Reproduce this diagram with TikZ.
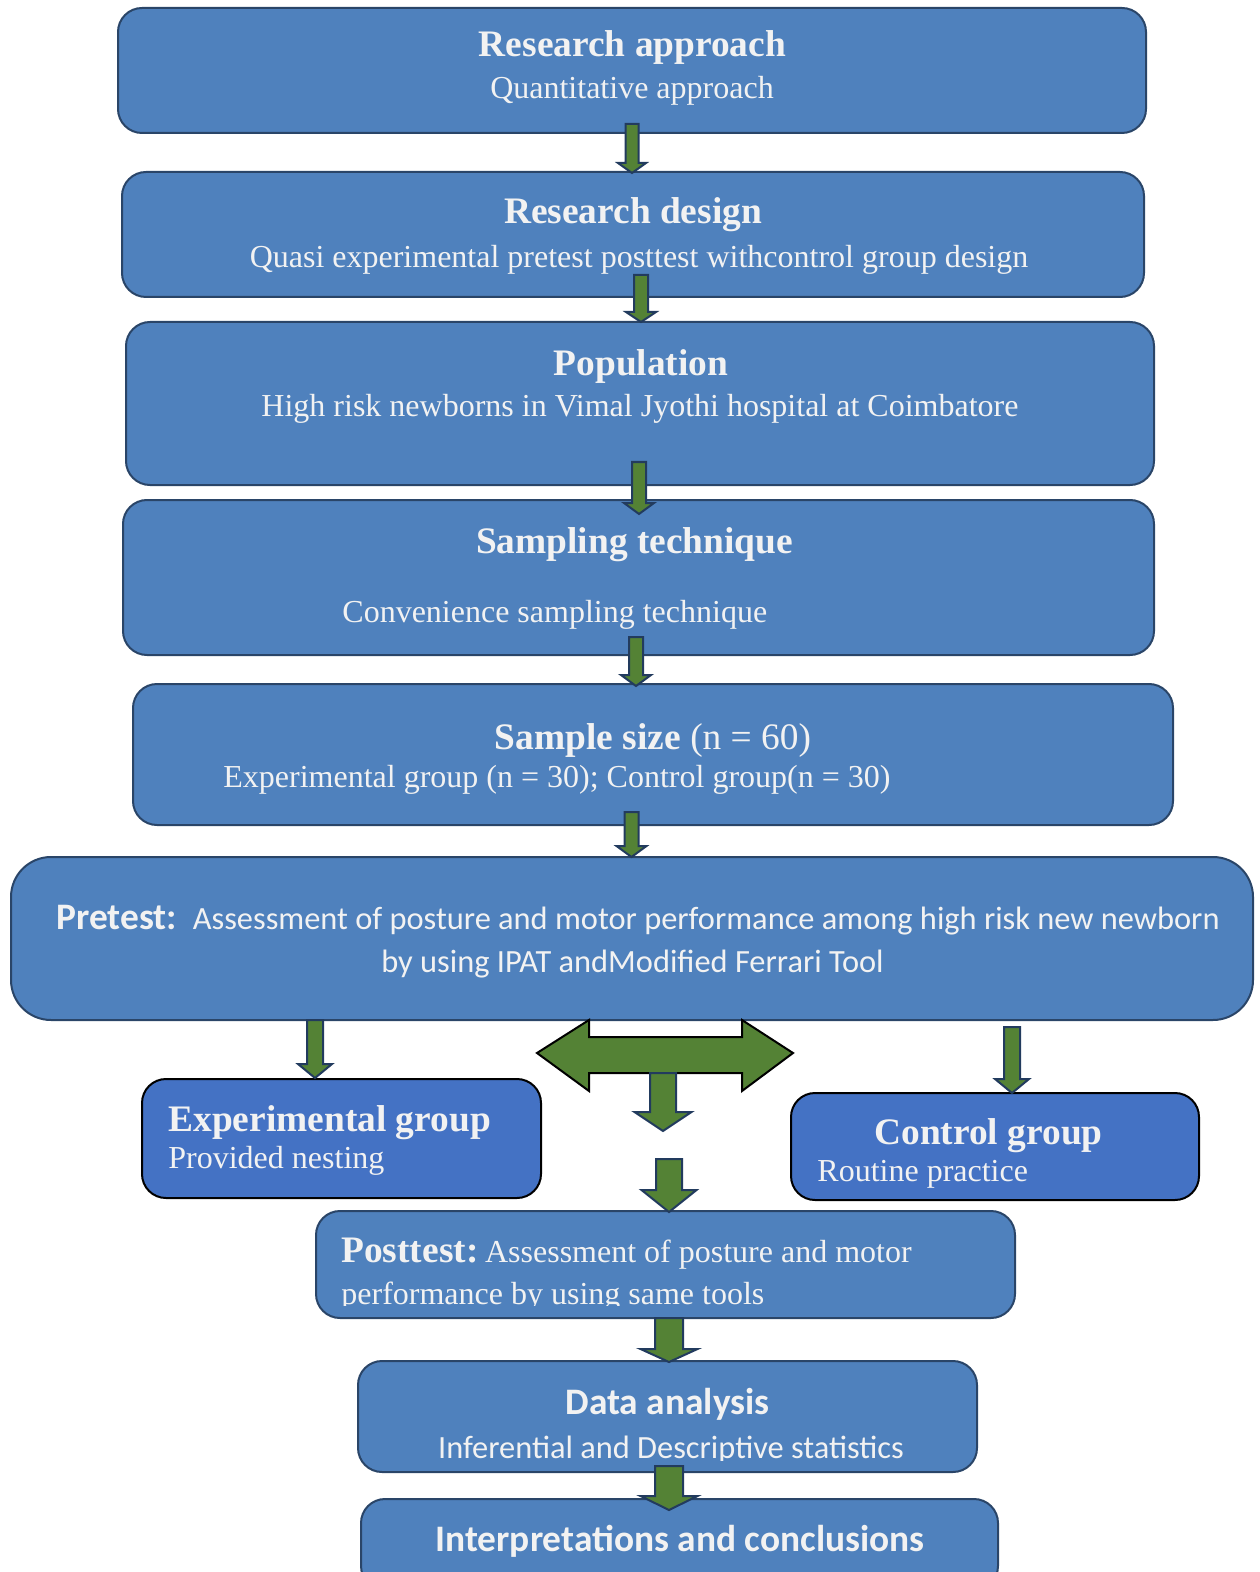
\documentclass[tikz,border=0pt]{standalone}
\usepackage{fontspec}
\setmainfont{Liberation Serif}
\newfontfamily\calfont{Carlito}
\definecolor{boxblue}{HTML}{4F81BD}
\definecolor{grpblue}{HTML}{4472C4}
\definecolor{boxline}{HTML}{2A4568}
\definecolor{txt}{HTML}{F2F2F2}
\definecolor{arrgreen}{HTML}{548235}
\definecolor{arrline}{HTML}{223B5E}
\newcommand\titlesize{\fontsize{18.7}{22}\selectfont}
\newcommand\bodysize{\fontsize{16}{19}\selectfont}
\newcommand\calbody{\fontsize{16.2}{19}\selectfont}
\newcommand\blockdown[6]{%
  \draw[arr] ({#1-#4},#2) -- ({#1+#4},#2) -- ({#1+#4},{#3-#6}) -- ({#1+#5},{#3-#6})
    -- (#1,#3) -- ({#1-#5},{#3-#6}) -- ({#1-#4},{#3-#6}) -- cycle;}
\begin{document}
\begin{tikzpicture}[x=0.5pt,y=-0.5pt,
  box/.style={draw=boxline,line width=1pt,fill=boxblue,rounded corners=12pt,inner sep=0pt},
  grp/.style={draw=black,line width=1pt,fill=grpblue,rounded corners=12pt,inner sep=0pt},
  arr/.style={draw=arrline,line width=1pt,fill=arrgreen,line join=miter},
  dbl/.style={draw=black,line width=1pt,fill=arrgreen,line join=miter},
  ttl/.style={text=txt,inner sep=0pt,font=\titlesize\bfseries},
  bdy/.style={text=txt,inner sep=0pt,font=\bodysize}]
\useasboundingbox (0,0) rectangle (1259,1572);
\begin{scope}
\clip (0,0) rectangle (1259,1572);
% boxes
\node[box,minimum width=514pt,minimum height=62.5pt] (b1) at (632,70.5) {};
\node[box,minimum width=511pt,minimum height=62.5pt] (b2) at (633,234.5) {};
\node[box,minimum width=514pt,minimum height=81.5pt] (b3) at (640,403.5) {};
\node[box,minimum width=515.5pt,minimum height=77.5pt] (b4) at (638.5,577.5) {};
\node[box,minimum width=520pt,minimum height=70.5pt] (b5) at (653,754.5) {};
\node[box,rounded corners=20pt,minimum width=621pt,minimum height=81.5pt] (b6) at (632,938.5) {};
\node[grp,minimum width=199.5pt,minimum height=59.5pt] (b7) at (341.5,1138.5) {};
\node[grp,minimum width=204pt,minimum height=53.5pt] (b8) at (995,1146.5) {};
\node[box,minimum width=349.5pt,minimum height=53.5pt] (b9) at (665.5,1264.5) {};
\node[box,minimum width=309.5pt,minimum height=55.5pt] (b10) at (667.5,1416.5) {};
\node[box,minimum width=318.5pt,minimum height=45.5pt] (b11) at (679.5,1544.5) {};
% texts
\node[ttl,anchor=base] (t1) at (632.5,57) {Research approach};
\node[bdy,anchor=base] (s1) at (632,99) {Quantitative approach};
\node[ttl,anchor=base] (t2) at (633,224) {Research design};
\node[bdy,anchor=base] (s2) at (639,268) {Quasi experimental pretest posttest withcontrol group design};
\node[ttl,anchor=base] (t3) at (641,376) {Population};
\node[bdy,anchor=base] (s3) at (640,417) {High risk newborns in Vimal Jyothi hospital at Coimbatore};
\node[ttl,anchor=base] (t4) at (634.5,553) {Sampling technique};
\node[bdy,anchor=base west] (s4) at (342,622) {Convenience sampling technique};
\node[ttl,anchor=base] (t5) at (653,749) {Sample size \textmd{(n = 60)}};
\node[bdy,anchor=base west] (s5) at (223,787) {Experimental group (n = 30); Control group(n = 30)};
\node[text=txt,inner sep=0pt,anchor=base west,font=\calfont] (t6) at (56,929)
  {{\titlesize\bfseries Pretest:}\hspace{8pt}{\calbody Assessment of posture and motor performance among high risk new newborn}};
\node[text=txt,inner sep=0pt,anchor=base,font=\calfont\calbody] (s6) at (632.5,972)
  {by using IPAT andModified Ferrari Tool};
\node[ttl,anchor=base west] (t7) at (168,1131) {Experimental group};
\node[bdy,anchor=base west] (s7) at (168,1168) {Provided nesting};
\node[ttl,anchor=base west] (t8) at (874,1144) {Control group};
\node[bdy,anchor=base west] (s8) at (817,1181) {Routine practice};
\node[text=txt,inner sep=0pt,anchor=base west] (t9) at (341,1262)
  {{\titlesize\bfseries Posttest:} {\bodysize Assessment of posture and motor}};
\begin{scope}
\clip (316,1211) rectangle (1015,1305);
\node[bdy,anchor=base west] (s9) at (341,1304) {performance by using same tools};
\end{scope}
\node[ttl,anchor=base,font=\calfont\titlesize\bfseries] (t10) at (667.5,1414) {Data analysis};
\begin{scope}
\clip (358,1361) rectangle (977,1460);
\node[bdy,anchor=base,font=\calfont\calbody] (s10) at (671,1458) {Inferential and Descriptive statistics};
\end{scope}
\node[ttl,anchor=base,font=\calfont\titlesize\bfseries] (t11) at (680,1551) {Interpretations and conclusions};
% arrows
\blockdown{632}{124}{173}{6.5}{14}{10}
\blockdown{641}{275}{322}{7}{15}{10}
\blockdown{639}{462}{514}{7}{15}{11}
\blockdown{636}{637}{686}{7}{15}{11}
\blockdown{631.5}{812}{857}{7}{15}{11}
\blockdown{315}{1020}{1078}{8}{17}{14}
\blockdown{1012}{1027}{1093}{8}{17}{14}
\draw[dbl] (537,1053) -- (589,1020) -- (589,1037) -- (742,1037) -- (742,1020) -- (793,1053)
  -- (742,1091) -- (742,1073) -- (589,1073) -- (589,1091) -- cycle;
\blockdown{663}{1073}{1131}{13}{28.5}{19}
\blockdown{669}{1159}{1212}{13}{27.5}{22}
\blockdown{669}{1318}{1362}{14}{28.5}{13}
\blockdown{669}{1466}{1510}{14}{28.5}{14}
\end{scope}
\end{tikzpicture}
\end{document}
